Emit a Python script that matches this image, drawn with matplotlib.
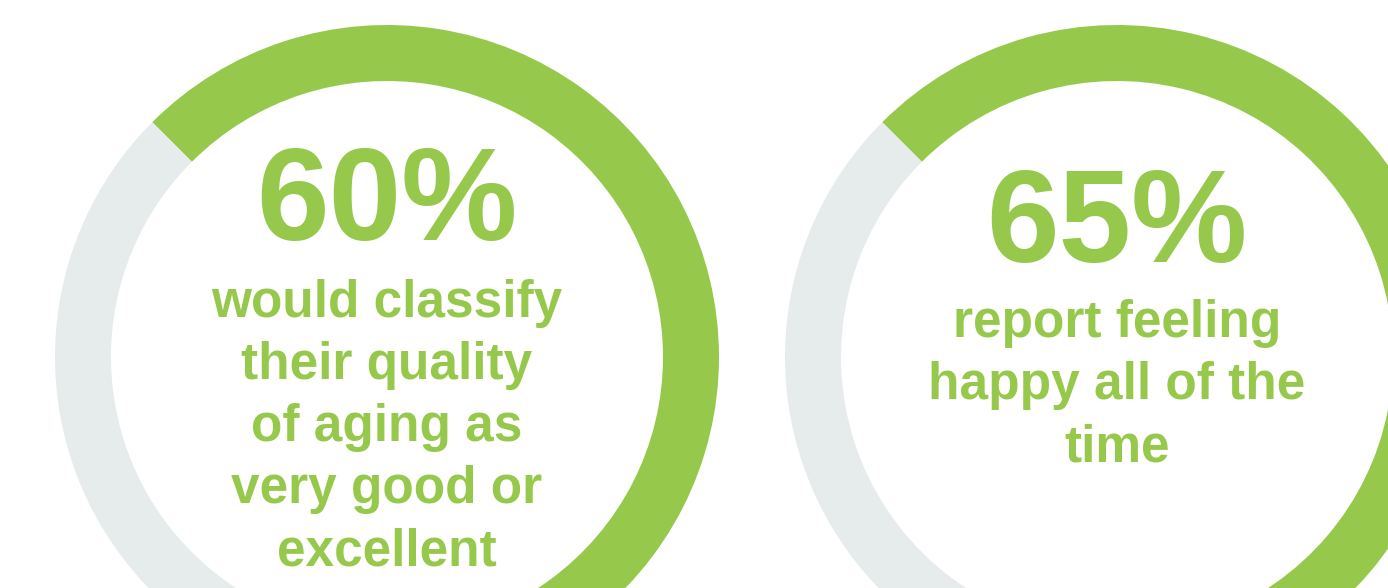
import matplotlib
matplotlib.use('Agg')
import matplotlib.pyplot as plt

# share of respondents for each ring
values = [60, 65]
headlines = ['60%', '65%']
captions = [
    ['would classify', 'their quality', 'of aging as', 'very good or', 'excellent'],
    ['report feeling', 'happy all of the', 'time'],
]

green = '#96c84b'
grey = '#e6ecec'

W, H = 1388, 588
fig = plt.figure(figsize=(W / 100, H / 100), dpi=100)
ax = fig.add_axes([0, 0, 1, 1])

centers = [(387, H - 357), (1117, H - 357)]
head_base = [240, 262]
cap_base = [317, 337]

for i, v in enumerate(values):
    cx, cy = centers[i]
    ax.pie([v, 100 - v], colors=[green, grey], startangle=135, counterclock=False,
           radius=332, center=(cx, cy),
           wedgeprops=dict(width=56, edgecolor='none', linewidth=0))
    ax.text(cx, H - head_base[i], headlines[i], ha='center', va='baseline',
            fontsize=94, fontweight='bold', color=green, family='Liberation Sans')
    for j, line in enumerate(captions[i]):
        ax.text(cx, H - (cap_base[i] + 62 * j), line, ha='center', va='baseline',
                fontsize=37, fontweight='bold', color=green, family='Liberation Sans')

ax.set_xlim(0, W)
ax.set_ylim(0, H)
ax.set_aspect('auto')
ax.axis('off')

fig.savefig('out.png', dpi=100, facecolor='white')
